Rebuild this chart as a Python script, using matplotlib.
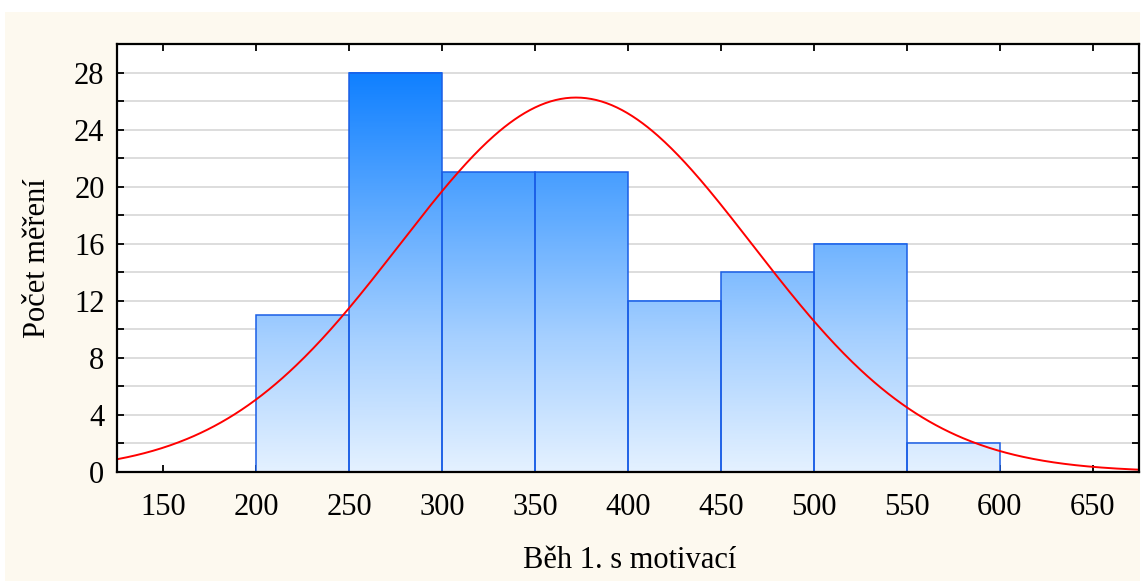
import numpy as np
import matplotlib
matplotlib.use("Agg")
import matplotlib.pyplot as plt
from matplotlib.colors import LinearSegmentedColormap, Normalize
from matplotlib.patches import Rectangle

# Data
bin_edges = [200, 250, 300, 350, 400, 450, 500, 550, 600]
counts = [11, 28, 21, 21, 12, 14, 16, 2]
fit_mean = 372.0
fit_sd = 95.0
xticks = [150, 200, 250, 300, 350, 400, 450, 500, 550, 600, 650]
yticks = [0, 4, 8, 12, 16, 20, 24, 28]
xlabel = "Běh 1. s motivací"
ylabel = "Počet měření"

plt.rcParams['font.family'] = ['Liberation Serif', 'DejaVu Serif']

fig = plt.figure(figsize=(11.42, 5.81), dpi=100)
fig.patch.set_facecolor('white')
fig.patches.append(Rectangle((5 / 1142, 0), 1135 / 1142, 569 / 581,
                             transform=fig.transFigure, facecolor='#fdf9ef',
                             edgecolor='none', zorder=-10))

ax = fig.add_axes([117 / 1142, (581 - 472) / 581, 1022 / 1142, 428 / 581])
ax.set_facecolor('white')

cmap = LinearSegmentedColormap.from_list('bl', ['#e4f1ff', '#a6d0ff', '#5aa8ff', '#1080ff'])
norm = Normalize(0, 28)

for i, c in enumerate(counts):
    x0, x1 = bin_edges[i], bin_edges[i + 1]
    grad = np.linspace(0, c, 200).reshape(-1, 1)
    ax.imshow(grad, extent=[x0, x1, 0, c], origin='lower', cmap=cmap, norm=norm,
              aspect='auto', zorder=2, interpolation='bilinear')
    ax.add_patch(Rectangle((x0, 0), x1 - x0, c, facecolor='none',
                           edgecolor='#1a5ee6', linewidth=1.1, zorder=3))

ax.set_xlim(125, 675)
ax.set_ylim(0, 30)

# Normal fit curve
n = sum(counts)
bw = bin_edges[1] - bin_edges[0]
xs = np.linspace(125, 675, 600)
ys = n * bw / (fit_sd * np.sqrt(2 * np.pi)) * np.exp(-0.5 * ((xs - fit_mean) / fit_sd) ** 2)
ax.plot(xs, ys, color='#ff0000', linewidth=1.4, zorder=4)

ax.set_xticks(xticks)
ax.set_yticks(yticks)
ax.set_yticks(np.arange(2, 30, 4), minor=True)
ax.yaxis.grid(True, which='both', color='#dadada', linewidth=1.3, zorder=0)
ax.set_axisbelow(True)

ax.tick_params(axis='both', which='both', direction='in', top=True, right=True,
               length=5, width=1.3, labelsize=22, color='black')
ax.tick_params(axis='x', pad=15)
ax.tick_params(axis='y', pad=9)
ax.tick_params(axis='x', which='minor', length=0)

for s in ax.spines.values():
    s.set_linewidth(1.6)
    s.set_color('black')
    s.set_zorder(5)

ax.set_xlabel(xlabel, fontsize=22)
ax.xaxis.set_label_coords((630 - 117) / 1022, -88 / 428)
ax.xaxis.label.set_va('center')
ax.set_ylabel(ylabel, fontsize=22)
ax.yaxis.set_label_coords((38 - 117) / 1022, (472 - 258) / 428)
ax.yaxis.label.set_va('center')

fig.savefig('out.png', dpi=100)
